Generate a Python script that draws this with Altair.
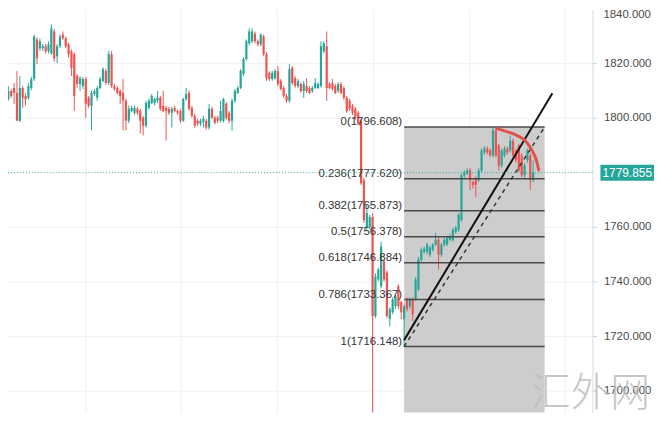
import altair as alt
import pandas as pd

# ---------------- candle data (gold) ----------------
opens = [
    1806.9, 1809.8, 1810.9, 1809.1, 1798.9, 1810.9, 1808.0, 1807.3, 1810.9, 1814.2,
    1828.7, 1825.5, 1825.5, 1826.2, 1824.4, 1823.6, 1831.6, 1822.5, 1826.2, 1830.5,
    1829.1, 1826.9, 1824.4, 1823.3, 1815.3, 1812.4, 1811.6, 1814.2, 1807.3, 1804.4,
    1808.7, 1807.3, 1810.9, 1813.5, 1817.1, 1812.7, 1823.3, 1811.6, 1810.9, 1809.8,
    1809.1, 1806.2, 1798.9, 1802.5, 1801.8, 1803.3, 1802.5, 1800.0, 1797.1, 1803.6,
    1805.4, 1805.4, 1806.2, 1807.3, 1804.4, 1803.6, 1803.3, 1801.8, 1803.6, 1802.5,
    1802.5, 1798.9, 1806.9, 1809.1, 1803.6, 1800.7, 1798.9, 1797.8, 1798.5, 1798.9,
    1796.4, 1803.3, 1800.0, 1800.0, 1798.9, 1798.9, 1805.1, 1801.8, 1798.9, 1806.2,
    1809.1, 1810.9, 1816.0, 1821.5, 1827.3, 1828.0, 1830.9, 1828.0, 1826.9,
    1829.8, 1823.3, 1816.5, 1814.2, 1814.5, 1817.1, 1813.5, 1810.9, 1808.0, 1806.2,
    1818.2, 1814.5, 1811.6, 1812.4, 1809.8, 1811.6, 1810.9, 1809.8,
    1810.9, 1810.9, 1811.6, 1824.4, 1826.2, 1812.4, 1812.7, 1811.6, 1809.8, 1812.4,
    1810.9, 1807.3, 1806.2, 1804.4, 1803.3, 1801.8, 1798.9, 1777.1, 1760.0,
    1760.0, 1763.6, 1727.3, 1740.7, 1738.2, 1747.3, 1743.3, 1726.2, 1728.7, 1730.9,
    1738.2, 1732.4, 1726.2, 1733.5, 1730.9, 1733.5, 1733.5, 1737.1, 1748.0,
    1750.9, 1750.9, 1749.8, 1751.6, 1753.5, 1755.3, 1749.8, 1753.5, 1753.5, 1755.3,
    1755.3, 1758.2, 1758.9, 1762.5, 1778.9, 1779.6, 1780.7, 1776.4, 1777.8, 1777.1,
    1780.7, 1787.3, 1788.7, 1788.0, 1786.2, 1795.3, 1789.8, 1782.5, 1786.2, 1788.7,
    1788.0, 1791.6, 1788.0, 1789.8, 1786.2, 1778.9, 1784.4, 1786.2, 1777.1,
]
highs = [
    1811.6, 1810.5, 1812.7, 1817.1, 1815.3, 1811.6, 1809.0, 1812.7, 1815.0, 1830.5,
    1829.5, 1829.0, 1827.0, 1827.0, 1828.0, 1834.2, 1832.5, 1827.0, 1830.5, 1831.6,
    1829.8, 1827.5, 1825.0, 1824.0, 1816.0, 1815.3, 1815.0, 1815.0, 1808.0, 1810.0,
    1810.5, 1811.6, 1815.0, 1818.5, 1818.0, 1824.4, 1824.4, 1812.4, 1811.6, 1810.5,
    1814.2, 1807.0, 1804.5, 1804.4, 1804.4, 1804.0, 1803.3, 1800.7, 1806.2, 1807.0,
    1808.7, 1807.3, 1809.8, 1808.0, 1809.8, 1804.4, 1804.0, 1804.0, 1804.4, 1803.0,
    1803.3, 1807.3, 1810.9, 1810.0, 1804.4, 1801.5, 1799.6, 1799.6, 1800.7, 1799.6,
    1805.1, 1804.0, 1800.7, 1800.7, 1806.2, 1807.3, 1805.8, 1802.5, 1807.0, 1810.5,
    1811.6, 1817.8, 1822.2, 1828.7, 1832.7, 1832.7, 1831.6, 1828.7, 1830.9,
    1830.5, 1824.0, 1817.0, 1817.1, 1817.8, 1818.9, 1814.2, 1811.6, 1808.7, 1819.6,
    1819.0, 1815.3, 1814.2, 1813.0, 1813.5, 1814.5, 1811.6, 1811.6,
    1814.5, 1813.0, 1828.0, 1828.0, 1831.6, 1813.0, 1814.2, 1812.4, 1813.0, 1813.0,
    1811.6, 1808.0, 1807.0, 1805.1, 1804.0, 1802.5, 1799.6, 1778.0, 1768.0,
    1764.4, 1765.0, 1743.0, 1745.0, 1754.5, 1748.0, 1744.0, 1730.5, 1734.2, 1735.0,
    1739.0, 1733.0, 1731.6, 1734.2, 1734.2, 1734.2, 1741.5, 1749.0, 1752.4,
    1752.7, 1754.2, 1753.0, 1754.0, 1757.8, 1756.0, 1754.2, 1756.0, 1756.7, 1757.5,
    1759.6, 1760.4, 1765.1, 1779.6, 1780.7, 1781.5, 1781.5, 1777.0, 1778.5, 1781.5,
    1788.7, 1789.5, 1789.5, 1788.7, 1796.6, 1796.0, 1790.5, 1788.7, 1789.5, 1789.5,
    1793.5, 1792.4, 1788.7, 1790.5, 1787.0, 1783.5, 1788.7, 1787.0, 1784.4,
]
lows = [
    1806.2, 1807.3, 1805.1, 1798.9, 1798.5, 1803.6, 1804.5, 1806.5, 1810.0, 1813.5,
    1819.6, 1824.5, 1824.5, 1823.5, 1823.5, 1823.0, 1820.5, 1820.0, 1825.5, 1828.5,
    1825.5, 1822.0, 1815.3, 1802.5, 1811.0, 1809.8, 1810.5, 1800.0, 1803.6, 1795.3,
    1808.0, 1806.2, 1810.5, 1813.0, 1812.0, 1812.0, 1811.0, 1809.8, 1808.5, 1805.1,
    1795.3, 1795.3, 1798.0, 1802.0, 1801.0, 1801.0, 1794.2, 1793.5, 1796.4, 1803.0,
    1805.0, 1804.5, 1805.4, 1802.5, 1802.0, 1791.6, 1801.0, 1796.4, 1802.0, 1801.0,
    1798.0, 1798.5, 1806.2, 1802.5, 1800.0, 1796.4, 1797.0, 1797.0, 1796.4, 1795.6,
    1795.6, 1799.6, 1797.5, 1798.0, 1798.2, 1798.2, 1799.3, 1798.0, 1795.3, 1805.4,
    1808.7, 1810.5, 1815.3, 1821.0, 1826.5, 1827.3, 1827.3, 1826.2, 1826.2,
    1822.5, 1813.5, 1813.5, 1813.5, 1814.0, 1811.6, 1810.0, 1807.3, 1805.4, 1805.4,
    1812.0, 1811.0, 1810.9, 1809.1, 1807.3, 1809.1, 1808.7, 1809.1,
    1810.5, 1810.5, 1811.0, 1823.6, 1806.2, 1810.5, 1810.0, 1808.7, 1809.1, 1808.7,
    1806.5, 1801.8, 1802.5, 1801.0, 1799.3, 1797.1, 1775.3, 1761.5, 1759.0,
    1759.0, 1680.0, 1726.5, 1740.0, 1737.5, 1740.0, 1726.5, 1723.6, 1728.0, 1730.0,
    1730.0, 1726.2, 1716.148, 1729.0, 1730.0, 1725.5, 1733.0, 1736.5, 1747.3,
    1750.2, 1750.0, 1749.0, 1750.9, 1753.0, 1744.4, 1749.0, 1752.7, 1753.0, 1754.8,
    1754.5, 1757.5, 1758.2, 1762.0, 1778.0, 1779.0, 1773.5, 1774.0, 1770.9, 1776.4,
    1780.0, 1786.5, 1786.5, 1785.5, 1785.5, 1785.5, 1780.7, 1781.8, 1785.5, 1786.5,
    1787.3, 1785.5, 1783.6, 1780.0, 1778.2, 1778.0, 1783.6, 1773.5, 1776.4,
]
closes = [
    1809.8, 1808.0, 1809.1, 1798.9, 1810.9, 1807.3, 1806.9, 1811.6, 1814.2, 1829.8,
    1821.8, 1828.0, 1826.2, 1824.4, 1826.9, 1832.7, 1821.8, 1826.2, 1829.8, 1829.1,
    1826.2, 1823.3, 1818.2, 1808.0, 1812.4, 1814.5, 1814.2, 1805.1, 1804.4, 1809.1,
    1809.8, 1810.9, 1814.2, 1817.8, 1812.7, 1823.3, 1811.6, 1810.5, 1809.1, 1808.0,
    1806.2, 1798.9, 1803.3, 1803.6, 1803.6, 1801.8, 1798.9, 1797.1, 1805.4, 1806.2,
    1808.0, 1806.9, 1807.3, 1803.3, 1802.5, 1802.5, 1801.8, 1803.3, 1802.5, 1801.8,
    1798.9, 1806.9, 1808.7, 1803.3, 1800.7, 1797.1, 1797.8, 1798.9, 1799.6, 1796.4,
    1803.3, 1800.0, 1798.2, 1798.9, 1802.5, 1806.9, 1800.0, 1798.9, 1806.2, 1809.8,
    1810.9, 1817.1, 1821.5, 1828.0, 1831.6, 1831.6, 1828.0, 1826.9, 1830.5,
    1823.3, 1814.5, 1814.2, 1816.5, 1817.1, 1812.4, 1810.5, 1808.0, 1806.2, 1817.8,
    1812.7, 1811.6, 1813.5, 1809.8, 1812.4, 1809.8, 1809.1, 1810.9,
    1812.7, 1812.4, 1826.2, 1827.3, 1810.9, 1810.9, 1810.5, 1809.1, 1812.4, 1809.1,
    1807.3, 1802.5, 1803.3, 1801.8, 1800.0, 1797.8, 1776.0, 1762.5, 1765.1,
    1763.6, 1727.3, 1741.8, 1744.4, 1752.7, 1740.7, 1727.3, 1729.8, 1733.5, 1734.5,
    1730.9, 1728.7, 1730.9, 1729.8, 1733.5, 1728.0, 1740.7, 1748.0, 1751.6,
    1752.0, 1753.5, 1752.4, 1753.5, 1755.3, 1749.8, 1753.5, 1755.3, 1756.0, 1756.7,
    1758.9, 1759.6, 1764.4, 1778.9, 1780.0, 1780.7, 1777.1, 1775.3, 1775.3, 1780.7,
    1788.0, 1788.7, 1787.3, 1786.2, 1795.3, 1786.2, 1782.5, 1788.0, 1788.7, 1787.3,
    1791.6, 1786.2, 1784.4, 1780.7, 1778.9, 1782.5, 1788.0, 1777.1, 1779.855,
]

# ---------------- Fibonacci retracement drawing ----------------
fib_ratios = ["0", "0.236", "0.382", "0.5", "0.618", "0.786", "1"]
fib_prices = [1796.608, 1777.620, 1765.873, 1756.378, 1746.884, 1733.367, 1716.148]
fib_start = 138      # candle index of the swing low
fib_end = 187        # right edge of the drawing (bar index)

# trend lines and the red arc (bar index, price)
trend_x = [138, 189.7]
trend_p = [1718.5, 1809.0]
diag_x = [138, 187]
diag_p = [1716.148, 1796.608]
arc_x = [170.3, 174.7, 177.1, 179.5, 180.9, 182.2, 183.9, 184.9]
arc_p = [1796.0, 1794.6, 1793.6, 1792.2, 1790.8, 1788.7, 1785.1, 1780.9]

last_price = 1779.855
y_ticks = [1700, 1720, 1740, 1760, 1800, 1820]
top_tick = 1840
grid_x = [26.8, 60.1, 93.8, 127.1, 160.8, 194.1]
watermark = "汇外网"

UP = "#26a69a"
DOWN = "#ef5350"
FONT = "Liberation Sans"

df = pd.DataFrame({"i": list(range(len(opens))), "o": opens, "h": highs,
                   "l": lows, "c": closes})
df["dir"] = ["up" if c >= o else "down" for o, c in zip(opens, closes)]

xs = alt.Scale(domain=[1.61, 201.95], nice=False, zero=False)
ys = alt.Scale(domain=[1692.0, 1839.636], nice=False, zero=False)
col = alt.Color("dir:N", scale=alt.Scale(domain=["up", "down"], range=[UP, DOWN]), legend=None)

x_axis = alt.Axis(values=grid_x, labels=False, ticks=False, domain=False, grid=True,
                  gridColor="#eef0f4", title=None)
y_axis = alt.Axis(orient="right", values=y_ticks, format=".3f", grid=True,
                  gridColor="#eef0f4", tickColor="#c8cbd2", tickSize=4, labelPadding=7,
                  domainColor="#d6d9df", labelColor="#4a4a4a", labelFont=FONT,
                  labelFontSize=11.5, title=None)


def X(field):
    return alt.X(field, scale=xs, axis=x_axis)


def Y(field):
    return alt.Y(field, scale=ys, axis=y_axis)


box_df = pd.DataFrame({"x0": [fib_start], "x1": [fib_end], "top": [fib_prices[0]],
                       "bot": [1680.0]})
box = alt.Chart(box_df).mark_rect(color="#cdcdcd", clip=True).encode(
    x=X("x0:Q"), x2="x1:Q", y=Y("top:Q"), y2="bot:Q")

wicks = alt.Chart(df).mark_rule(strokeWidth=1, clip=True).encode(
    x=X("i:Q"), y=Y("l:Q"), y2="h:Q", color=col)

bodies = alt.Chart(df).mark_bar(size=2.2, clip=True).encode(
    x=X("i:Q"), y=Y("o:Q"), y2="c:Q", color=col)

fib_df = pd.DataFrame({"x0": [fib_start] * len(fib_prices), "x1": [fib_end] * len(fib_prices),
                       "p": fib_prices,
                       "label": [f"{r}({p:.3f})" for r, p in zip(fib_ratios, fib_prices)]})
fib_lines = alt.Chart(fib_df).mark_rule(color="#4a4a4a", strokeWidth=1.5).encode(
    x=X("x0:Q"), x2="x1:Q", y=Y("p:Q"))
fib_text = alt.Chart(fib_df).mark_text(align="right", baseline="bottom", dx=-2, dy=0,
                                       font=FONT, fontSize=11.5, color="#333333").encode(
    x=X("x0:Q"), y=Y("p:Q"), text="label:N")

trend = alt.Chart(pd.DataFrame({"x": trend_x, "p": trend_p})).mark_line(
    color="#111111", strokeWidth=2, clip=True).encode(x=X("x:Q"), y=Y("p:Q"))
diag = alt.Chart(pd.DataFrame({"x": diag_x, "p": diag_p})).mark_line(
    color="#333333", strokeWidth=1.5, strokeDash=[4, 4], clip=True).encode(
    x=X("x:Q"), y=Y("p:Q"))
arc = alt.Chart(pd.DataFrame({"x": arc_x, "p": arc_p})).mark_line(
    color="#e0524c", strokeWidth=3, interpolate="natural", strokeCap="round").encode(
    x=X("x:Q"), y=Y("p:Q"))

last_df = pd.DataFrame({"p": [last_price], "t": [f"{last_price:.3f}"]})
price_line = alt.Chart(last_df).mark_rule(color=UP, strokeWidth=1, strokeDash=[1, 2]).encode(
    y=Y("p:Q"))
price_tag = alt.Chart(last_df).mark_tick(orient="horizontal", size=54, thickness=16,
                                         color=UP, opacity=1).encode(
    x=alt.value(624), y=Y("p:Q"))
price_txt = alt.Chart(last_df).mark_text(color="white", font=FONT, fontSize=12,
                                         align="center", baseline="middle").encode(
    x=alt.value(624), y=Y("p:Q"), text="t:N")

top_df = pd.DataFrame({"p": [top_tick], "t": [f"{top_tick:.3f}"]})
top_lbl = alt.Chart(top_df).mark_text(align="left", baseline="top", dy=1, font=FONT,
                                      fontSize=11.5, color="#4a4a4a").encode(
    x=alt.value(600), y=Y("p:Q"), text="t:N")

wm = alt.Chart(pd.DataFrame({"t": [watermark]})).mark_text(
    font="Noto Sans CJK SC", fontSize=40, fontWeight=300, color="#bdbdbd", opacity=0.85,
    align="center", baseline="middle").encode(
    x=alt.value(587), y=alt.value(388), text="t:N")

chart = alt.layer(box, wicks, bodies, fib_lines, fib_text, diag, trend, arc,
                  price_line, price_tag, price_txt, top_lbl, wm).properties(
    width=589, height=406,
    autosize=alt.AutoSizeParams(type="none"),
    padding={"left": 0, "top": 0, "right": 62, "bottom": 0},
    background="white",
).configure_view(strokeWidth=0)

chart.save("out.html", embed_options={"renderer": "svg", "actions": False})
